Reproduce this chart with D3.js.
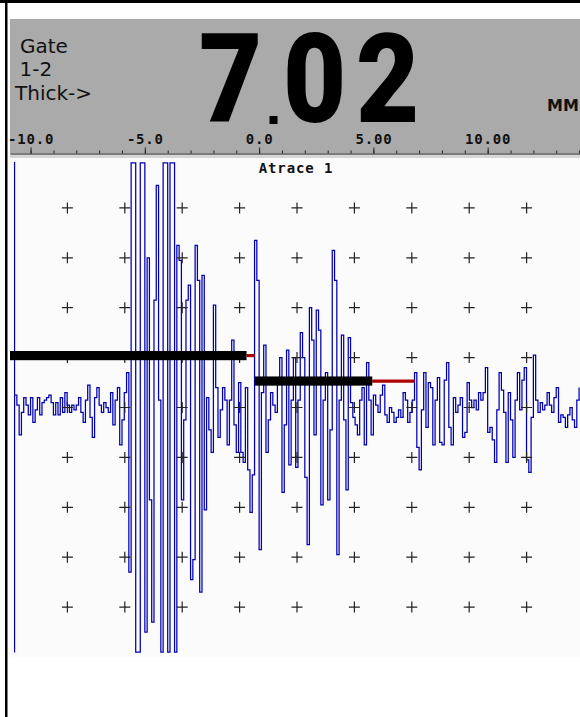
<!DOCTYPE html>
<html>
<head>
<meta charset="utf-8">
<script src="https://cdn.jsdelivr.net/npm/d3@7"></script>
<style>
  body { margin: 0; background: #fff; }
  svg { display: block; }
</style>
</head>
<body>
<svg id="chart"></svg>
<script>
const width = 580;
const height = 717;

// A-scan, % of full screen height, one sample every 0.1 mm starting at -10.7 mm
const sampleStart = -10.7;
const sampleStep = 0.1;
const amplitude = [
  5, 1, -11, -2, 4, 1, -3, 4, -6, -1, 4, -3, 2, 3, 4, 5, 2, -3, 2, -3,
  4, -2, 6, 1, -2, 1, -1, 1, 4, -2, -6, 3, 9, -4, -12, 4, 8, 1, -2, 2,
  0, -2, 6, -7, 3, 8, -15, -5, 6, 14, -66, 98, 98, -98, -98, 98, 98, -90, 60, -37,
  -86, 43, 89, 3, -98, 98, 98, -98, 98, 98, -98, 65, 59, -37, -5, 43, 49, -69, -61, 65,
  51, -74, 53, -41, 4, -9, -18, 41, 8, -12, -1, 8, 3, -15, 3, 27, -7, -18, 10, -18,
  -22, 8, -25, -42, -27, 67, 51, -57, 6, 25, -18, -5, 6, 1, -2, 11, 20, -34, -7, 23,
  -23, 3, 20, -24, 3, 30, 20, -28, -55, 40, 27, -11, 39, 31, -39, 3, 14, -37, -9, 63,
  51, -59, 3, 29, -5, -33, 28, 2, -4, -7, -11, 3, 8, -15, 18, 3, -11, 5, 1, -2,
  5, 9, -3, -6, 0, -2, -6, -4, -1, -4, 6, 3, -6, -2, 3, 14, -16, -25, -1, 14,
  -8, 10, 8, -15, 3, 12, -14, -15, 11, 18, -8, -15, 4, -2, 1, 4, -12, -10, 10, 3,
  0, 3, -1, 6, 3, 6, 16, -10, -8, -13, -22, -1, 14, 7, -2, -22, 6, -5, -20, 3,
  14, -1, 11, 16, -21, -26, -4, 21, 3, -2, 2, -1, 1, 6, 1, -2, 4, 8, -6, -3,
  -4, -8, -3, 0, -5, -8, 3, 8
];

const rulerValues = [-10, -5, 0, 5, 10];
const rulerLabels = ["-10.0", "-5.0", "0.0", "5.00", "10.00"];

// gates: start / end of the black bar, end of the red tail (mm), level (%)
const gateStart = [-10.9, -0.19];
const gateEnd = [-0.55, 4.95];
const gateTail = [-0.19, 6.8];
const gateLevel = [20.8, 10.6];

const headerLines = ["Gate", "1-2", "Thick->"];
const readingDigits = ["7", "0", "2"];
const unitLabel = "MM";
const traceTitle = "Atrace 1";

const svg = d3.select("#chart")
  .attr("width", width)
  .attr("height", height);

const plot = { left: 10, right: 580, top: 158, bottom: 657 };

const x = d3.scaleLinear()
  .domain([-10.9, 14.04])
  .range([plot.left, plot.right]);

const y = d3.scaleLinear()
  .domain([-100, 100])
  .range([plot.bottom, plot.top]);

// grid divisions (10 x 10 screen)
const gridX = d3.scaleLinear().domain([0, 10]).range([plot.left, plot.left + 574]);
const gridY = d3.scaleLinear().domain([0, 10]).range([plot.top, plot.bottom]);

// frame
svg.append("rect").attr("x", 0).attr("y", 0).attr("width", width).attr("height", 3).attr("fill", "#000");
svg.append("rect").attr("x", 5).attr("y", 0).attr("width", 2.5).attr("height", height).attr("fill", "#000");

// header
svg.append("rect")
  .attr("x", plot.left).attr("y", 19)
  .attr("width", width - plot.left).attr("height", 134.5)
  .attr("fill", "#aaaaaa");
svg.append("rect")
  .attr("x", plot.left).attr("y", 154)
  .attr("width", width - plot.left).attr("height", 4)
  .attr("fill", "#d6d6d6");

const headerX = [20, 19.5, 15];
const headerY = [53, 76, 100];
svg.selectAll("text.hdr")
  .data(headerLines)
  .join("text")
  .attr("class", "hdr")
  .attr("x", (d, i) => headerX[i])
  .attr("y", (d, i) => headerY[i])
  .attr("font-family", "DejaVu Sans")
  .attr("font-size", 20)
  .attr("fill", "#111")
  .text(d => d);

// big thickness reading, a little condensed
const digitX = [199, 283, 356];
svg.selectAll("text.digit")
  .data(readingDigits)
  .join("text")
  .attr("class", "digit")
  .attr("transform", (d, i) => `translate(${digitX[i]},122) scale(0.88,1)`)
  .attr("font-family", "Roboto")
  .attr("font-weight", 900)
  .attr("font-size", 124)
  .attr("fill", "#000")
  .text(d => d);
svg.append("rect")
  .attr("x", 269.5).attr("y", 116)
  .attr("width", 8).attr("height", 8)
  .attr("fill", "#000");

svg.append("text")
  .attr("x", 547)
  .attr("y", 110.5)
  .attr("font-family", "DejaVu Sans")
  .attr("font-weight", "bold")
  .attr("font-size", 16)
  .attr("fill", "#111")
  .text(unitLabel);

// ruler
const ruler = svg.append("g").attr("transform", "translate(0,153.5)");
ruler.append("g")
  .call(d3.axisTop(x).tickValues(d3.range(-10, 15, 1)).tickSize(3).tickFormat("").tickSizeOuter(0))
  .call(g => g.selectAll(".tick text").remove())
  .call(g => g.select(".domain").attr("stroke", "#222"))
  .call(g => g.selectAll(".tick line").attr("stroke", "#222"));
ruler.append("g")
  .call(d3.axisTop(x).tickValues(rulerValues).tickSize(6).tickPadding(4)
    .tickFormat((d, i) => rulerLabels[i]).tickSizeOuter(0))
  .call(g => g.select(".domain").remove())
  .call(g => g.selectAll(".tick line").attr("stroke", "#222"))
  .call(g => g.selectAll(".tick text")
    .attr("font-family", "DejaVu Sans Mono")
    .attr("font-weight", "bold")
    .attr("font-size", 14)
    .attr("letter-spacing", 0.8)
    .attr("fill", "#111"));

// plot area
svg.append("rect")
  .attr("x", plot.left).attr("y", plot.top)
  .attr("width", plot.right - plot.left).attr("height", plot.bottom - plot.top)
  .attr("fill", "#fbfbfb");

svg.append("text")
  .attr("x", 296)
  .attr("y", 173)
  .attr("text-anchor", "middle")
  .attr("font-family", "DejaVu Sans Mono")
  .attr("font-weight", "bold")
  .attr("font-size", 14)
  .attr("letter-spacing", 0.9)
  .attr("fill", "#111")
  .text(traceTitle);

// trace start marker
svg.append("line")
  .attr("x1", x(sampleStart)).attr("x2", x(sampleStart))
  .attr("y1", y(98.4)).attr("y2", y(-98.2))
  .attr("stroke", "#0000b0")
  .attr("stroke-width", 1.2);

const line = d3.line()
  .x((d, i) => x(sampleStart + i * sampleStep))
  .y(d => y(d))
  .curve(d3.curveStepAfter);

svg.append("path")
  .datum(amplitude)
  .attr("d", line)
  .attr("fill", "none")
  .attr("stroke", "#0000b0")
  .attr("stroke-width", 1.25);

// grid crosses
const crosses = [];
d3.range(1, 10).forEach(c => d3.range(1, 10).forEach(r => crosses.push([gridX(c), gridY(r)])));
svg.append("g")
  .selectAll("path")
  .data(crosses)
  .join("path")
  .attr("d", d => `M${d[0] - 5.5},${d[1]}H${d[0] + 5.5}M${d[0]},${d[1] - 5.5}V${d[1] + 5.5}`)
  .attr("stroke", "#222")
  .attr("stroke-width", 1.2)
  .attr("fill", "none");

// gates
const gates = gateStart.map((s, i) => ({ start: s, end: gateEnd[i], tail: gateTail[i], level: gateLevel[i] }));
const gateG = svg.append("g");
gateG.selectAll("line.tail")
  .data(gates)
  .join("line")
  .attr("class", "tail")
  .attr("x1", d => x(d.end)).attr("x2", d => x(d.tail))
  .attr("y1", d => y(d.level)).attr("y2", d => y(d.level))
  .attr("stroke", "#b00000")
  .attr("stroke-width", 3.2);
gateG.selectAll("rect")
  .data(gates)
  .join("rect")
  .attr("x", d => x(d.start))
  .attr("width", d => x(d.end) - x(d.start))
  .attr("y", d => y(d.level) - 4.6)
  .attr("height", 9.2)
  .attr("fill", "#000");
</script>
</body>
</html>
